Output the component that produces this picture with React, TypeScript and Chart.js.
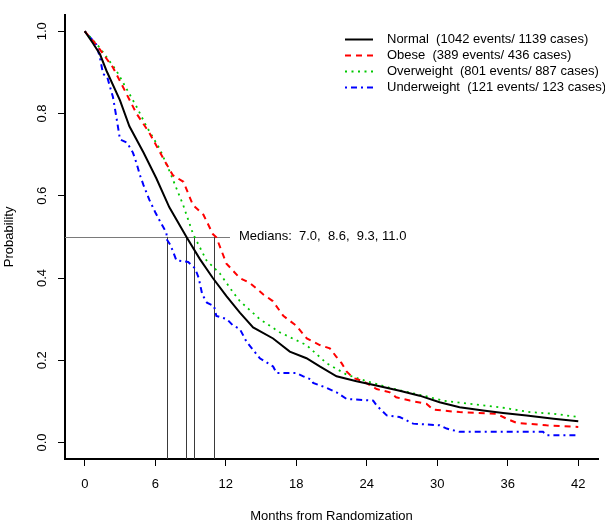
import React, { useEffect, useRef } from "react";
import { Chart, registerables } from "chart.js";

Chart.register(...registerables);

// ---- data ----
const X_TICKS = [0, 6, 12, 18, 24, 30, 36, 42];
const Y_TICKS = [0, 0.2, 0.4, 0.6, 0.8, 1.0];

const GROUPS = ["Normal", "Obese", "Overweight", "Underweight"];
const EVENTS = [1042, 389, 801, 121];
const CASES = [1139, 436, 887, 123];
const MEDIANS = [7.0, 8.6, 9.3, 11.0];

const NORMAL_T = [0, 0.7, 1.3, 1.85, 3.0, 3.8, 5.0, 6.1, 7.2, 8.66, 9.8, 10.9, 12.06, 13.2, 14.33, 16.03, 17.45, 18.87, 20.0, 21.43, 23.13, 25.1, 26.8, 28.5, 30.2, 31.9, 33.9, 35.6, 37.6, 39.9, 42];
const NORMAL_S = [1.0, 0.971, 0.944, 0.904, 0.832, 0.769, 0.705, 0.642, 0.572, 0.5, 0.446, 0.4, 0.356, 0.316, 0.28, 0.253, 0.221, 0.205, 0.185, 0.161, 0.149, 0.137, 0.126, 0.114, 0.098, 0.086, 0.078, 0.072, 0.066, 0.058, 0.052];

const OBESE_T = [0, 1.0, 2.4, 3.55, 4.4, 5.5, 6.7, 7.5, 8.4, 9.2, 10.1, 10.9, 11.2, 12.06, 13.2, 14.05, 15.2, 16.0, 16.9, 18.0, 18.9, 20.0, 20.86, 21.4, 21.86, 22.28, 22.85, 23.7, 24.84, 25.97, 26.5, 27.67, 29.1, 29.65, 31.9, 35.05, 35.9, 36.75, 39.3, 42];
const OBESE_S = [1.0, 0.967, 0.912, 0.848, 0.8, 0.753, 0.69, 0.65, 0.634, 0.578, 0.554, 0.507, 0.499, 0.435, 0.4, 0.388, 0.36, 0.344, 0.308, 0.284, 0.253, 0.237, 0.229, 0.209, 0.193, 0.173, 0.157, 0.149, 0.13, 0.122, 0.11, 0.102, 0.094, 0.08, 0.074, 0.07, 0.058, 0.048, 0.042, 0.038];

const OVER_T = [0, 1.28, 2.7, 4.4, 5.25, 6.4, 7.24, 8.37, 9.22, 10.36, 11.5, 12.63, 13.2, 14.9, 16.6, 18.87, 20.58, 22.3, 24.0, 25.97, 29.4, 30.5, 32.8, 35.3, 37.9, 39.9, 42];
const OVER_S = [1.0, 0.96, 0.904, 0.817, 0.769, 0.713, 0.658, 0.578, 0.507, 0.443, 0.411, 0.365, 0.344, 0.3, 0.268, 0.237, 0.193, 0.165, 0.149, 0.133, 0.11, 0.102, 0.094, 0.086, 0.074, 0.07, 0.062];

const UNDER_T = [0, 0.5, 1.0, 1.3, 1.56, 1.9, 2.1, 2.4, 2.7, 3.0, 3.6, 4.1, 4.4, 4.7, 5.0, 5.5, 6.0, 6.4, 6.95, 7.0, 7.3, 7.8, 8.8, 9.4, 9.7, 10.0, 10.4, 11.0, 11.2, 12.1, 12.6, 13.2, 13.77, 14.9, 16.03, 16.32, 18.0, 18.6, 19.3, 19.44, 20.58, 21.43, 22.28, 24.55, 24.84, 25.7, 26.8, 27.95, 30.2, 30.8, 31.9, 39.0, 39.3, 41.9];
const UNDER_S = [1.0, 0.984, 0.967, 0.935, 0.896, 0.89, 0.87, 0.84, 0.79, 0.737, 0.729, 0.705, 0.68, 0.65, 0.626, 0.59, 0.56, 0.538, 0.51, 0.493, 0.48, 0.443, 0.439, 0.423, 0.4, 0.36, 0.34, 0.332, 0.308, 0.3, 0.285, 0.276, 0.245, 0.205, 0.185, 0.169, 0.169, 0.161, 0.153, 0.145, 0.133, 0.122, 0.106, 0.102, 0.09, 0.066, 0.062, 0.046, 0.042, 0.034, 0.026, 0.026, 0.018, 0.018];

const SERIES_T = [NORMAL_T, OBESE_T, OVER_T, UNDER_T];
const SERIES_S = [NORMAL_S, OBESE_S, OVER_S, UNDER_S];
const COLORS = ["#000000", "#ff0000", "#00c800", "#0000ff"];
const DASHES: number[][] = [[], [6, 5], [2, 4.5], [2, 4, 6, 4]];
const WIDTHS = [2, 2, 1.8, 2];

const FONT = "'Liberation Sans', Arial, Helvetica, sans-serif";

const overlayPlugin = {
  id: "kmOverlay",
  beforeDatasetsDraw(chart: any) {
    const { ctx, chartArea, scales } = chart;
    const xs = scales.x;
    const ys = scales.y;
    const yMid = ys.getPixelForValue(0.5);
    const xEnd = xs.getPixelForValue(Math.max(...MEDIANS)) + 16;
    ctx.save();
    ctx.lineWidth = 1;
    ctx.strokeStyle = "#7a7a7a";
    ctx.beginPath();
    ctx.moveTo(chartArea.left, Math.round(yMid) + 0.5);
    ctx.lineTo(xEnd, Math.round(yMid) + 0.5);
    ctx.stroke();
    ctx.strokeStyle = "#3a3a3a";
    MEDIANS.forEach((m) => {
      const px = Math.round(xs.getPixelForValue(m)) + 0.5;
      ctx.beginPath();
      ctx.moveTo(px, yMid);
      ctx.lineTo(px, chartArea.bottom);
      ctx.stroke();
    });
    ctx.restore();
  },
  afterDraw(chart: any) {
    const { ctx, scales } = chart;
    const xs = scales.x;
    const ys = scales.y;
    ctx.save();
    ctx.font = `13px ${FONT}`;
    ctx.fillStyle = "#000";
    ctx.textBaseline = "middle";
    ctx.textAlign = "left";
    // medians label
    const yMid = ys.getPixelForValue(0.5);
    const xEnd = xs.getPixelForValue(Math.max(...MEDIANS)) + 16;
    const medText = "Medians: " + MEDIANS.map((m) => m.toFixed(1).padStart(4, " ")).join(", ");
    ctx.fillText(medText, xEnd + 9, yMid);
    // legend
    const lx0 = 345;
    const lx1 = 373;
    const tx = 387;
    const ty0 = 39.5;
    const dy = 16;
    chart.data.datasets.forEach((ds: any, i: number) => {
      const y = ty0 + i * dy;
      ctx.save();
      ctx.strokeStyle = ds.borderColor;
      ctx.lineWidth = ds.borderWidth;
      ctx.setLineDash(ds.borderDash || []);
      ctx.beginPath();
      ctx.moveTo(lx0, y);
      ctx.lineTo(lx1, y);
      ctx.stroke();
      ctx.restore();
      ctx.fillText(ds.label, tx, y);
    });
    ctx.restore();
  },
};

export default function App() {
  const canvasRef = useRef<HTMLCanvasElement | null>(null);

  useEffect(() => {
    if (!canvasRef.current) return;
    Chart.defaults.font.family = FONT;
    Chart.defaults.font.size = 13;
    Chart.defaults.color = "#000";

    const datasets = GROUPS.map((g, i) => ({
      label: `${g}  (${EVENTS[i]} events/ ${CASES[i]} cases)`,
      data: SERIES_T[i].map((t, j) => ({ x: t, y: SERIES_S[i][j] })),
      borderColor: COLORS[i],
      backgroundColor: COLORS[i],
      borderWidth: WIDTHS[i],
      borderDash: DASHES[i],
      pointRadius: 0,
      tension: 0,
      fill: false,
    }));

    const chart = new Chart(canvasRef.current, {
      type: "line",
      data: { datasets },
      plugins: [overlayPlugin],
      options: {
        animation: false,
        responsive: true,
        maintainAspectRatio: false,
        layout: { padding: { left: 0, right: 7, top: 6, bottom: 0 } },
        plugins: {
          legend: { display: false },
          tooltip: { enabled: false },
        },
        scales: {
          x: {
            type: "linear",
            min: -1.68,
            max: 43.68,
            afterBuildTicks: (axis: any) => {
              axis.ticks = X_TICKS.map((v) => ({ value: v }));
            },
            afterFit: (s: any) => {
              s.height = 66;
            },
            ticks: {
              color: "#000",
              font: { size: 13, family: FONT },
              padding: 11,
              maxRotation: 0,
              minRotation: 0,
              autoSkip: false,
              callback: (v: any) => String(v),
            },
            grid: {
              drawOnChartArea: false,
              drawTicks: true,
              tickLength: 7,
              color: "#000",
              lineWidth: 1,
            },
            border: { display: true, color: "#000", width: 2 },
            title: {
              display: true,
              text: "Months from Randomization",
              color: "#000",
              font: { size: 13, family: FONT },
              padding: { top: 0, bottom: 1 },
            },
          },
          y: {
            type: "linear",
            min: -0.04,
            max: 1.04,
            afterBuildTicks: (axis: any) => {
              axis.ticks = Y_TICKS.map((v) => ({ value: v }));
            },
            afterFit: (s: any) => {
              s.width = 65;
            },
            ticks: {
              color: "#000",
              font: { size: 13, family: FONT },
              padding: 7,
              minRotation: 90,
              maxRotation: 90,
              crossAlign: "center",
              autoSkip: false,
              callback: (v: any) => Number(v).toFixed(1),
            },
            grid: {
              drawOnChartArea: false,
              drawTicks: true,
              tickLength: 7,
              color: "#000",
              lineWidth: 1,
            },
            border: { display: true, color: "#000", width: 2 },
            title: {
              display: true,
              text: "Probability",
              color: "#000",
              font: { size: 13, family: FONT },
              padding: { top: 2, bottom: 0 },
            },
          },
        },
      } as any,
    });
    return () => chart.destroy();
  }, []);

  return (
    <div style={{ position: "fixed", left: 0, top: 0, width: 605, height: 525, background: "#fff" }}>
      <canvas ref={canvasRef} />
    </div>
  );
}
